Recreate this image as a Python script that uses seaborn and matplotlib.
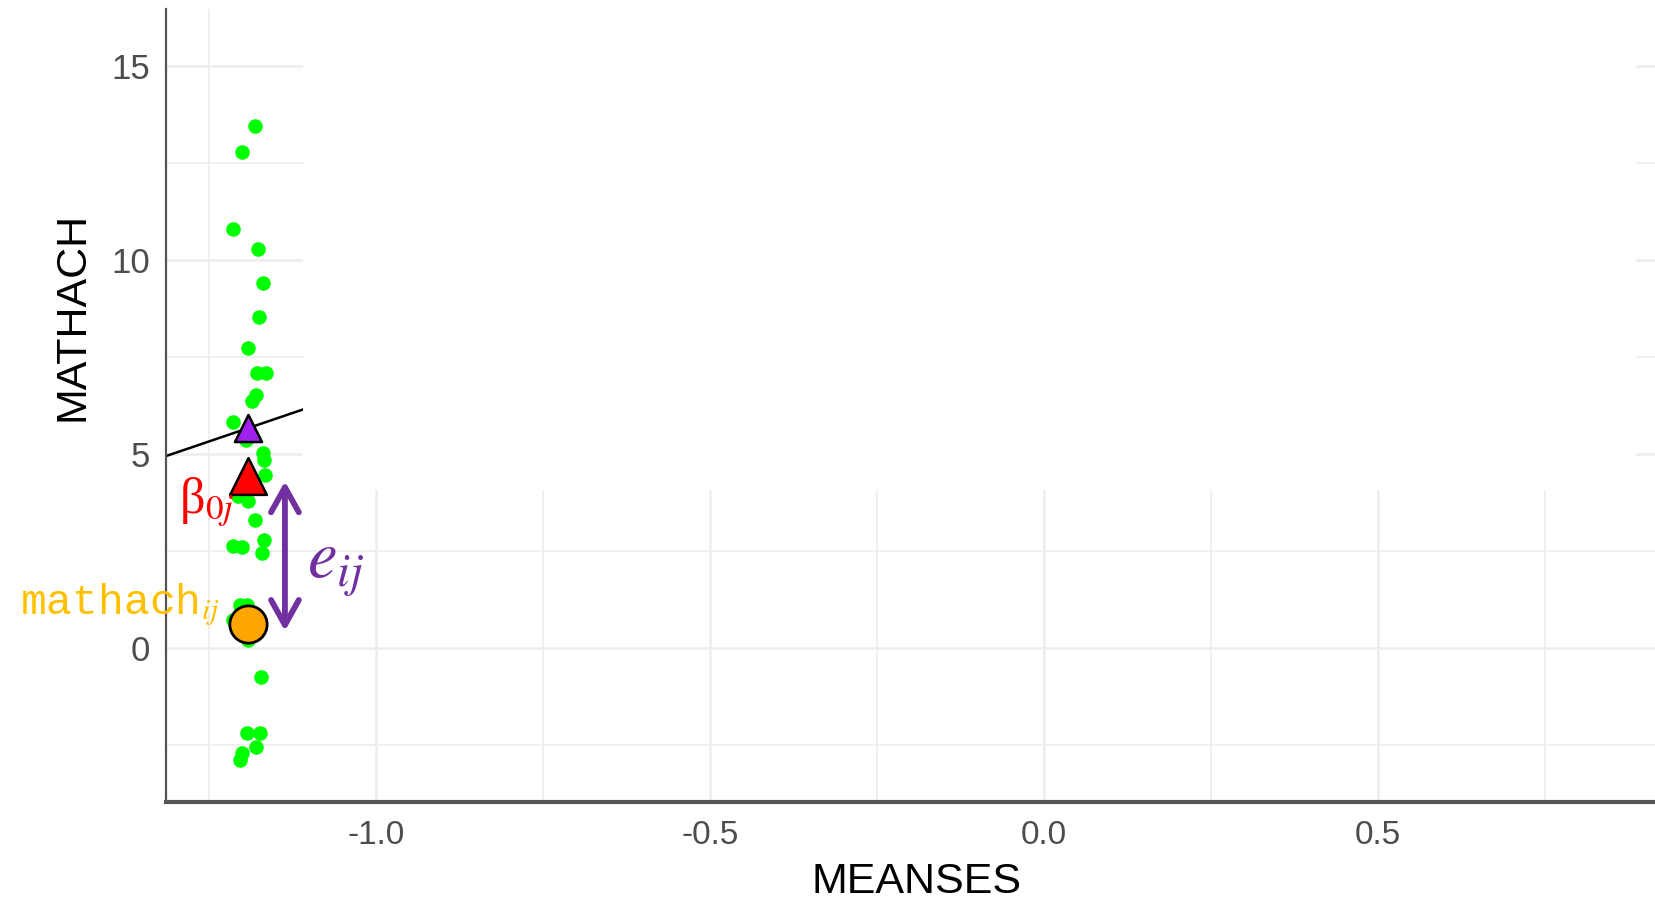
import matplotlib
matplotlib.use("Agg")
import matplotlib.pyplot as plt
from matplotlib.patches import Rectangle
import seaborn as sns
import pandas as pd

# one school's students: MEANSES (jittered) and MATHACH
student_meanses = [-1.181, -1.200, -1.213, -1.177, -1.169, -1.175, -1.192, -1.178,
                   -1.165, -1.179, -1.186, -1.214, -1.194, -1.169, -1.167, -1.166,
                   -1.206, -1.191, -1.181, -1.213, -1.201, -1.168, -1.171, -1.203,
                   -1.193, -1.213, -1.191, -1.172, -1.193, -1.174, -1.179, -1.201,
                   -1.203]
student_mathach = [13.47, 12.78, 10.81, 10.30, 9.40, 8.53, 7.73, 7.09,
                   7.09, 6.53, 6.36, 5.83, 5.37, 5.03, 4.85, 4.47,
                   3.91, 3.78, 3.31, 2.64, 2.60, 2.79, 2.45, 1.11,
                   1.11, 0.73, 0.21, -0.75, -2.19, -2.19, -2.54, -2.71,
                   -2.88]

# fixed effects of the level-2 model
gamma00 = 12.65
gamma01 = 5.86

# highlighted school / student
school_meanses = -1.191
beta0j = 4.44
mathach_ij = 0.62

x_ticks = [-1.0, -0.5, 0.0, 0.5]
x_ticklabels = ["-1.0", "-0.5", "0.0", "0.5"]
x_minor = [-1.25, -0.75, -0.25, 0.25, 0.75]
y_ticks = [0, 5, 10, 15]
y_ticklabels = ["0", "5", "10", "15"]
y_minor = [-2.5, 2.5, 7.5, 12.5]

sns.set_theme(style="white")
plt.rcParams["font.family"] = ["Liberation Sans", "DejaVu Sans"]
plt.rcParams["mathtext.fontset"] = "stix"

fig = plt.figure(figsize=(16.55, 9.08), dpi=100)
ax = fig.add_axes([0.1001, 0.1167, 0.8999, 0.8731])
ax.set_xlim(-1.3145, 0.9145)
ax.set_ylim(-3.97, 16.47)

# grid
grid_col = "#ededed"
for v in x_ticks:
    ax.axvline(v, color=grid_col, lw=1.8, zorder=0)
for v in x_minor:
    ax.axvline(v, color=grid_col, lw=1.2, zorder=0)
for v in y_ticks:
    ax.axhline(v, color=grid_col, lw=1.8, zorder=0)
for v in y_minor:
    ax.axhline(v, color=grid_col, lw=1.2, zorder=0)

# overall regression line
ax.axline((0, gamma00), slope=gamma01, color="black", lw=1.8, zorder=2)

df = pd.DataFrame({"MEANSES": student_meanses, "MATHACH": student_mathach})
sns.scatterplot(data=df, x="MEANSES", y="MATHACH", color="#00ff00", s=110,
                linewidth=0, ax=ax, zorder=3)

pred = gamma00 + gamma01 * school_meanses
sns.scatterplot(x=[school_meanses], y=[pred], marker="^", s=380, color="#a020f0",
                edgecolor="black", linewidth=1.8, ax=ax, zorder=4)
sns.scatterplot(x=[school_meanses], y=[beta0j], marker="^", s=700, color="#ff0000",
                edgecolor="black", linewidth=1.8, ax=ax, zorder=4)
sns.scatterplot(x=[school_meanses], y=[mathach_ij], marker="o", s=720, color="#ffa500",
                edgecolor="black", linewidth=2.0, ax=ax, zorder=4)

# white cover over the upper part of the panel (slide overlay)
ax.add_patch(Rectangle((-1.109, 4.08), 1.995, 20, facecolor="white",
                       edgecolor="none", zorder=2.5))

# residual arrow and labels
arrow_x = school_meanses + 0.055
ax.annotate("", xy=(arrow_x, beta0j - 0.14), xytext=(arrow_x, mathach_ij - 0.18),
            arrowprops=dict(arrowstyle="<->,head_length=0.9,head_width=0.5",
                            mutation_scale=20, color="#7030a0", lw=4.2,
                            shrinkA=0, shrinkB=0), zorder=5)
ax.annotate(r"$e_{ij}$", xy=(arrow_x, (beta0j + mathach_ij) / 2), xytext=(16, -13),
            textcoords="offset points", ha="left", va="center", fontsize=48,
            color="#7030a0", zorder=5)
ax.annotate(r"β$_{0j}$", xy=(school_meanses, beta0j), xytext=(-10, -19),
            textcoords="offset points", ha="right", va="center", fontsize=36,
            color="#ff0000", family=["Liberation Serif", "DejaVu Serif"], zorder=5)
ax.annotate(r"mathach$_{ij}$", xy=(school_meanses, mathach_ij), xytext=(-20, 14),
            textcoords="offset points", ha="right", va="center", fontsize=31,
            color="#ffc000", family=["Liberation Mono", "DejaVu Sans Mono"], zorder=5)

# axes styling
ax.set_xticks(x_ticks)
ax.set_xticklabels(x_ticklabels)
ax.set_yticks(y_ticks)
ax.set_yticklabels(y_ticklabels)
ax.tick_params(axis="both", which="major", length=6, width=1.5, color="#555555",
               labelsize=24, labelcolor="#4d4d4d", direction="out")
ax.tick_params(axis="x", pad=7)
ax.tick_params(axis="y", pad=5, labelsize=25)
for side in ["top", "right"]:
    ax.spines[side].set_visible(False)
ax.spines["left"].set_color("#555555")
ax.spines["left"].set_linewidth(1.6)
ax.spines["bottom"].set_color("#555555")
ax.spines["bottom"].set_linewidth(3.0)

ax.set_xlabel("MEANSES", fontsize=31, color="black")
ax.set_ylabel("MATHACH", fontsize=31, color="black")
ax.xaxis.set_label_coords(0.504, -0.076)
ax.yaxis.set_label_coords(-0.049, 0.613)

fig.savefig("out.png", dpi=100, facecolor="white")
